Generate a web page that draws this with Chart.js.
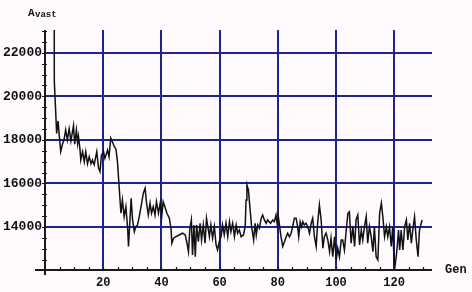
<!DOCTYPE html>
<html>
<head>
<meta charset="utf-8">
<script src="https://cdn.jsdelivr.net/npm/chart.js@4/dist/chart.umd.min.js"></script>
<style>
  html,body{margin:0;padding:0;background:#fefafe}
  #wrap{width:472px;height:292px}
</style>
</head>
<body>
<div id="wrap"><canvas id="c" width="472" height="292"></canvas></div>
<script>
// ── Data ──
var gens=[2.8,3.2,4.0,4.5,4.85,5.4,6.0,6.6,7.1,7.7,8.3,8.9,9.8,10.2,10.8,11.2,11.5,12.0,12.3,12.9,13.5,14.0,14.6,15.2,15.8,16.3,16.9,17.8,18.4,18.9,19.4,20.1,20.6,21.5,22.0,22.6,23.2,23.8,24.4,24.9,
  25.5,26.1,26.6,27.2,27.8,28.4,28.7,29.2,29.6,30.1,30.7,31.2,31.8,32.4,33.0,33.8,34.4,34.9,35.5,36.1,36.6,37.2,37.8,38.3,39.0,39.6,40.1,40.6,41.2,41.9,42.7,43.3,43.6,44.2,45.0,46.1,47.3,48.2,48.8,49.3,49.8,50.3,50.7,51.2,51.65,
  52.1,52.7,53.3,53.8,54.4,55.0,55.5,56.5,57.0,57.6,58.2,58.8,59.3,59.9,60.5,61.0,61.6,62.2,62.8,63.4,63.9,64.5,65.1,65.7,66.2,66.8,67.4,68.2,68.8,69.1,69.4,69.9,70.2,70.6,71.0,71.7,72.2,72.6,73.1,73.7,74.3,74.8,75.4,76.0,76.5,77.5,78.3,78.8,
  79.4,79.9,80.2,81.1,81.7,82.3,82.9,83.4,84.0,84.6,85.1,85.7,86.3,86.8,87.2,87.7,88.2,88.6,89.1,89.7,90.3,90.9,91.5,92.0,92.6,93.2,93.7,94.3,94.9,95.5,96.0,96.6,97.2,97.8,98.3,98.9,99.5,100.1,100.6,101.2,101.8,102.3,102.9,103.5,
  104.1,104.6,105.2,105.8,106.4,106.9,107.5,108.1,108.7,109.2,109.8,110.4,110.9,111.5,112.1,112.7,113.2,113.8,114.4,115.0,115.6,116.1,116.7,117.3,117.8,118.4,119.0,119.5,120.1,120.7,121.1,121.5,121.9,122.4,123.0,123.6,124.2,124.7,125.3,125.9,126.4,127.0,127.6,128.2,128.7,129.3,129.6];
var avast=[80000,20700,18300,18870,18280,17460,17800,18040,18460,18000,18510,17950,18660,17800,18450,17840,18160,17600,17080,17460,17000,17460,16900,17230,16900,17080,16860,17460,16700,16540,17300,17460,17150,17530,17230,18080,17900,17700,17560,17000,
  15800,14630,15240,14470,14930,13940,13100,14320,15320,14320,13780,14010,14090,14470,14930,15550,15780,15090,14550,15090,14630,14930,14550,15160,14630,15090,14470,15160,14930,14630,14410,13940,13250,13480,13550,13630,13710,13630,13250,12860,13940,14320,12710,14090,12630,
  14090,13320,14170,13400,14090,13250,14400,13550,14090,13480,14010,13170,12940,13320,13550,14090,13630,14170,13550,14240,13780,14170,13550,14090,13710,13860,13550,13630,14010,15240,15930,15700,15240,14630,14010,13400,14170,13630,14090,13940,14400,14550,14320,14170,14320,14170,14320,14240,
  14550,14010,14470,13550,13100,13320,13550,13710,13550,13710,14010,14400,14400,14010,13550,14240,14010,14240,14090,14170,14010,13710,14170,14400,13550,13100,14170,15010,14320,13020,13550,13710,13400,12860,13480,12630,13550,12480,13020,12630,13400,13400,12940,13800,
  14630,14700,13250,14010,13100,14320,14550,13170,13860,13400,14010,14470,13250,14010,13550,12860,14010,12630,12480,14630,15090,14470,13550,14010,13550,14010,13100,14010,12020,12630,13170,13860,12940,13860,12940,14010,14320,13400,14170,13250,13860,14470,13400,12630,13860,14170,14320];
var yLabels=[14000,16000,18000,20000,22000];
var xLabels=[20,40,60,80,100,120];
var yMin=12020, yMax=23050, xMax=133;
var yMinorStep=500, xMinorStep=5;

var BLUE='#22228c', MONO='"Liberation Mono", "DejaVu Sans Mono", monospace';

var points=gens.map(function(g,i){return {x:g,y:avast[i]}});

function minorTicks(from,to,step){
  var out=[];
  for(var v=Math.ceil(from/step)*step;v<=to;v+=step)out.push({value:v});
  return out;
}

// ── Mathematica-style frame: axes that cross, small tick marks, axis labels ──
var framePlugin={
  id:'frame',
  beforeDraw:function(chart){
    var ctx=chart.ctx;
    ctx.save();ctx.fillStyle='#fefafe';ctx.fillRect(0,0,chart.width,chart.height);ctx.restore();
  },
  afterDraw:function(chart){
    var ctx=chart.ctx, a=chart.chartArea, xs=chart.scales.x, ys=chart.scales.y;
    ctx.save();
    ctx.strokeStyle='#1a1a1a';ctx.lineWidth=2;
    ctx.beginPath();
    ctx.moveTo(a.left,a.top);ctx.lineTo(a.left,a.bottom+5);
    ctx.moveTo(a.left-10,a.bottom);ctx.lineTo(a.right,a.bottom);
    ctx.stroke();
    ctx.lineWidth=1.2;
    ctx.beginPath();
    ys.ticks.forEach(function(t){
      var py=Math.round(ys.getPixelForValue(t.value))+0.5;
      ctx.moveTo(a.left-3,py);ctx.lineTo(a.left+2,py);
    });
    xs.ticks.forEach(function(t){
      if(t.value===0)return;
      var px=Math.round(xs.getPixelForValue(t.value))+0.5;
      ctx.moveTo(px,a.bottom-3);ctx.lineTo(px,a.bottom+1);
    });
    ctx.stroke();
    ctx.fillStyle='#111';
    ctx.textBaseline='alphabetic';ctx.textAlign='left';
    ctx.font='bold 12px '+MONO;
    ctx.fillText('Gen',445,273);
    ctx.font='bold 11px '+MONO;
    ctx.fillText('A',28,16);
    ctx.font='bold 9px '+MONO;
    ctx.fillText('vast',35,17);
    ctx.restore();
  }
};

new Chart(document.getElementById('c'),{
  type:'line',
  data:{datasets:[{data:points,borderColor:'#111',borderWidth:1.5,pointRadius:0,tension:0,fill:false,clip:0}]},
  options:{
    responsive:false,animation:false,
    layout:{padding:{top:30,right:40,left:0,bottom:0}},
    plugins:{legend:{display:false},tooltip:{enabled:false}},
    scales:{
      x:{type:'linear',min:0,max:xMax,
        afterFit:function(s){s.height=22},
        afterBuildTicks:function(s){s.ticks=minorTicks(0,xMax,xMinorStep)},
        border:{display:false},
        grid:{drawTicks:false,
          color:function(c){return c.tick&&xLabels.indexOf(c.tick.value)>=0?BLUE:'rgba(0,0,0,0)'},
          lineWidth:function(c){return c.tick&&xLabels.indexOf(c.tick.value)>=0?2:0}},
        ticks:{autoSkip:false,maxRotation:0,padding:6,color:'#111',
          font:{family:MONO,size:12,weight:'bold'},
          callback:function(v){return xLabels.indexOf(v)>=0?String(v):''}}
      },
      y:{type:'linear',min:yMin,max:yMax,
        afterFit:function(s){s.width=45},
        afterBuildTicks:function(s){s.ticks=minorTicks(yMin,yMax,yMinorStep)},
        border:{display:false},
        grid:{drawTicks:false,
          color:function(c){return c.tick&&yLabels.indexOf(c.tick.value)>=0?BLUE:'rgba(0,0,0,0)'},
          lineWidth:function(c){return c.tick&&yLabels.indexOf(c.tick.value)>=0?2:0}},
        ticks:{autoSkip:false,padding:3,color:'#111',
          font:{family:MONO,size:13,weight:'bold'},
          callback:function(v){return yLabels.indexOf(v)>=0?String(v):''}}
      }
    }
  },
  plugins:[framePlugin]
});
</script>
</body>
</html>
